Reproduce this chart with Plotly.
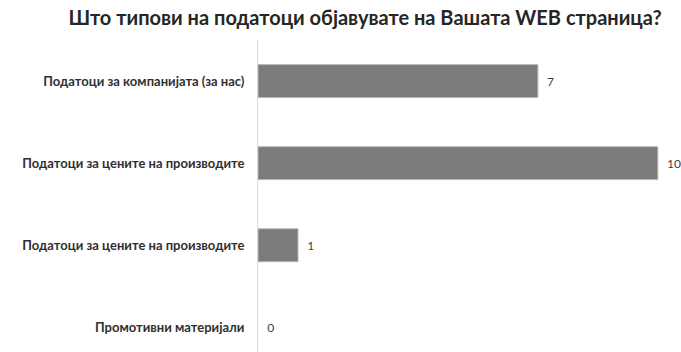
import plotly.graph_objects as go

# Survey responses: kinds of data published on the company website
categories = [
    "Податоци за компанијата (за нас)",
    "Податоци за цените на производите",
    "Податоци за цените на производите",
    "Промотивни материјали",
]
counts = [7, 10, 1, 0]
title_text = "Што типови на податоци објавувате на Вашата WEB страница?"

positions = list(range(len(categories)))

fig = go.Figure(
    go.Bar(
        x=counts,
        y=positions,
        orientation="h",
        marker=dict(
            color="#7b7b7b",
            line=dict(color="#b5b5b5", width=[1 if c > 0 else 0 for c in counts]),
        ),
        width=0.40,
        text=["  " + str(c) for c in counts],
        textposition="outside",
        textfont=dict(family="Lato, 'Open Sans', sans-serif", size=12, color="#404040"),
        cliponaxis=False,
        hoverinfo="skip",
    )
)

fig.update_layout(
    width=681,
    height=352,
    margin=dict(l=258, r=0, t=40, b=0),
    paper_bgcolor="white",
    plot_bgcolor="white",
    showlegend=False,
    title=dict(
        text="<b>" + title_text + "</b>",
        x=0.536,
        xanchor="center",
        y=0.95,
        yanchor="middle",
        font=dict(family="Lato, 'Open Sans', sans-serif", size=20, color="#262626"),
    ),
    xaxis=dict(
        range=[0, 10.58],
        showgrid=False,
        zeroline=False,
        showticklabels=False,
        showline=False,
        fixedrange=True,
    ),
    yaxis=dict(
        tickvals=positions,
        ticktext=["<b>" + c + "</b>" for c in categories],
        range=[3.3, -0.5],
        showgrid=False,
        zeroline=False,
        showline=True,
        linecolor="#d9d9d9",
        linewidth=1,
        ticks="",
        ticklabelstandoff=10,
        tickfont=dict(family="Lato, 'Open Sans', sans-serif", size=13, color="#303030"),
        fixedrange=True,
    ),
)

fig.write_html("out.html")
